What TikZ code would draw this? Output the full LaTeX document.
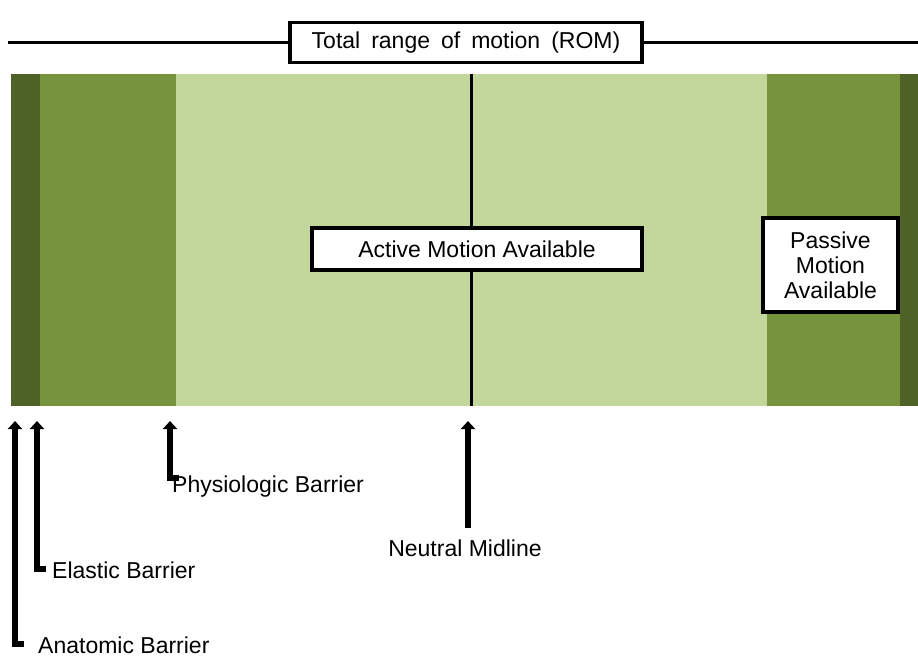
\documentclass[tikz,border=0pt]{standalone}
\usepackage{fontspec}
\setmainfont{Liberation Sans}
\usetikzlibrary{arrows.meta}
\definecolor{gdark}{HTML}{4F6228}
\definecolor{gmid}{HTML}{77933C}
\definecolor{glight}{HTML}{C3D69B}
\tikzset{
  lbox/.style={draw=black, line width=3.2pt, fill=white, inner sep=0pt, font=\fontsize{23}{26}\selectfont},
  lab/.style={anchor=west, inner sep=0pt, font=\fontsize{23}{26}\selectfont},
  upar/.style={line width=6pt, line join=miter, -{Triangle[width=14pt,length=8pt]}},
}
\begin{document}
\begin{tikzpicture}[x=1pt,y=-1pt]
\useasboundingbox (0,0) rectangle (918,658);
% band
\fill[gdark] (11,74) rectangle (918,406);
\fill[gmid] (40,74) rectangle (900,406);
\fill[glight] (176,74) rectangle (767,406);
% top line and title
\draw[line width=3pt] (8,43) -- (918,43);
\node[lbox, minimum width=352pt, minimum height=40pt] (title) at (466,42.5) {\spaceskip=11pt Total range of motion (ROM)};
% midline
\coordinate (midtop) at (471,74);
\coordinate (midbot) at (471,406);
\draw[line width=3pt] (midtop) -- (midbot);
\node[lbox, minimum width=330pt, minimum height=42pt] (active) at (477,249) {Active Motion Available};
\node[lbox, minimum width=135pt, minimum height=94pt, align=center, font=\fontsize{23}{25}\selectfont] (passive) at (830.5,265) {Passive\\Motion\\Available};
% arrow targets
\coordinate (anatT) at (15,421);
\coordinate (elasT) at (37,421);
\coordinate (physT) at (170,421);
\coordinate (neutT) at (468,421);
% labels
\node[lab] (anat) at (38,645) {Anatomic Barrier};
\node[lab] (elas) at (52,570) {Elastic Barrier};
\node[lab] (phys) at (172,487) {Physiologic Barrier};
\node[inner sep=0pt, font=\fontsize{23}{26}\selectfont] (neut) at (465,548) {Neutral Midline};
% arrows
\draw[upar] ([xshift=-14pt,yshift=1pt]anat.west) -| (anatT);
\draw[upar] ([xshift=-6pt,yshift=1pt]elas.west) -| (elasT);
\draw[upar] ([xshift=7pt,yshift=9pt]phys.west) -| (physT);
\draw[upar] ([xshift=3pt]neut.north) ++(0,-11) coordinate (nb) (nb) -- (neutT);
\end{tikzpicture}
\end{document}
